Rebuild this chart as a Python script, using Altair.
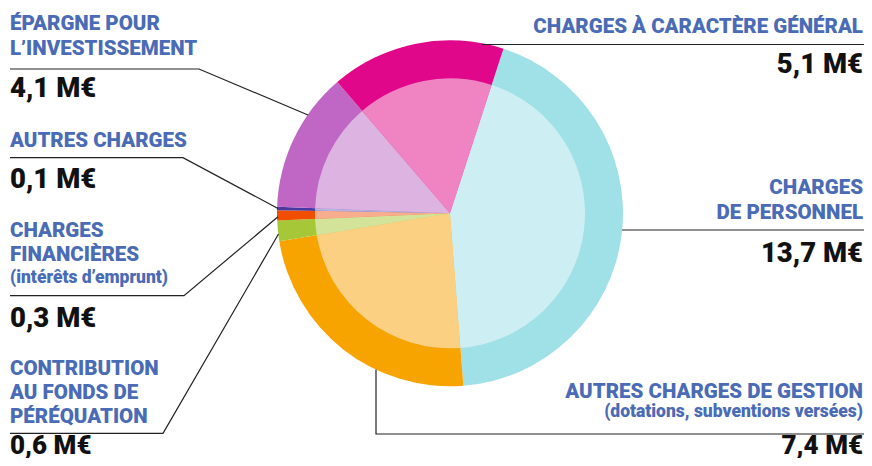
import math
import altair as alt
import pandas as pd

# ---------------- data ----------------
categories = [
    "Charges de personnel",
    "Autres charges de gestion",
    "Contribution au fonds de péréquation",
    "Charges financières",
    "Autres charges",
    "Épargne pour l'investissement",
    "Charges à caractère général",
]
values = [13.7, 7.4, 0.6, 0.3, 0.1, 4.1, 5.1]
outer_colors = ["#a0e1e8", "#f7a300", "#a6c838", "#f04e00", "#4a3aa0", "#c066c4", "#e0078a"]
inner_colors = ["#cdeef3", "#fbd083", "#d3e39a", "#f9ad8f", "#b7b3e0", "#ddb3e2", "#f084c2"]

label_lines = {
    "Épargne pour l'investissement": ["ÉPARGNE POUR", "L’INVESTISSEMENT"],
    "Autres charges": ["AUTRES CHARGES"],
    "Charges financières": ["CHARGES", "FINANCIÈRES"],
    "Contribution au fonds de péréquation": ["CONTRIBUTION", "AU FONDS DE", "PÉRÉQUATION"],
    "Charges à caractère général": ["CHARGES À CARACTÈRE GÉNÉRAL"],
    "Charges de personnel": ["CHARGES", "DE PERSONNEL"],
    "Autres charges de gestion": ["AUTRES CHARGES DE GESTION"],
}
label_notes = {
    "Charges financières": "(intérêts d’emprunt)",
    "Autres charges de gestion": "(dotations, subventions versées)",
}

# ---------------- layout (image pixel coordinates) ----------------
OFF = 8
CX, CY = 450 - OFF, 213.3 - OFF
R_OUT, R_IN = 173, 135
START = math.radians(18)

# side, x, baselines of label lines, note baseline, value baseline, value font size
layout = {
    "Épargne pour l'investissement": ("left", 10, [30, 55], None, 97, 27.5),
    "Autres charges": ("left", 10, [147], None, 188, 27.5),
    "Charges financières": ("left", 10, [237, 261], 283, 327, 27.5),
    "Contribution au fonds de péréquation": ("left", 10, [375, 399, 423], None, 454, 26),
    "Charges à caractère général": ("right", 863, [33], None, 73, 27.5),
    "Charges de personnel": ("right", 863, [194, 219], None, 262, 27.5),
    "Autres charges de gestion": ("right", 863, [398], 416.5, 454, 26),
}
leaders = {
    "Épargne pour l'investissement": [(10, 69), (199, 69), (308, 115)],
    "Charges à caractère général": [(482, 44.5), (866, 44.5)],
    "Charges de personnel": [(622, 230), (866, 230)],
    "Autres charges": [(10, 157.7), (183, 157.7), (278, 208.5)],
    "Charges financières": [(10, 295.7), (184, 295.7), (278, 216.7)],
    "Contribution au fonds de péréquation": [(10, 433.3), (163, 433.3), (278.5, 234)],
    "Autres charges de gestion": [(376, 369.4), (376, 434), (866, 434)],
}

# ---------------- tables ----------------
df = pd.DataFrame({"cat": categories, "value": values, "order": list(range(len(categories)))})

def fmt(v):
    return f"{v:.1f}".replace(".", ",") + " M€"

rows = []
for c, v in zip(categories, values):
    side, x, bls, note_bl, val_bl, vfs = layout[c]
    for line, bl in zip(label_lines[c], bls):
        rows.append({"text": line, "x": x - OFF, "y": bl - OFF, "kind": "label", "side": side, "fs": 20.5})
    if c in label_notes:
        rows.append({"text": label_notes[c], "x": x - OFF, "y": note_bl - OFF, "kind": "note", "side": side, "fs": 17.5})
    rows.append({"text": fmt(v), "x": x - OFF, "y": val_bl - OFF, "kind": "value", "side": side, "fs": vfs})
tdf = pd.DataFrame(rows)

lrows = []
for c, pts in leaders.items():
    for i, (x, y) in enumerate(pts):
        lrows.append({"cat": c, "i": i, "x": x - OFF, "y": y - OFF})
ldf = pd.DataFrame(lrows)

# ---------------- chart ----------------
theta = alt.Theta("value:Q", stack=True, scale=alt.Scale(range=[START, START + 2 * math.pi]))

outer = alt.Chart(df).mark_arc(outerRadius=R_OUT, strokeWidth=0).encode(
    theta=theta,
    order=alt.Order("order:Q"),
    color=alt.Color("cat:N", scale=alt.Scale(domain=categories, range=outer_colors), legend=None),
    x=alt.value(CX), y=alt.value(CY),
)
inner = alt.Chart(df).mark_arc(outerRadius=R_IN, strokeWidth=0).encode(
    theta=theta,
    order=alt.Order("order:Q"),
    color=alt.Color("cat:N", scale=alt.Scale(domain=categories, range=inner_colors), legend=None),
    x=alt.value(CX), y=alt.value(CY),
)
pie = alt.layer(outer, inner).resolve_scale(color="independent")

lines = alt.Chart(ldf).mark_line(color="#222222", strokeWidth=1.2).encode(
    x=alt.X("x:Q", scale=None),
    y=alt.Y("y:Q", scale=None),
    detail="cat:N",
    order="i:Q",
)

BLUE = "#4a6bb6"
colors = {"label": BLUE, "note": BLUE, "value": "#111111"}
text_layers = []
for kind, col in colors.items():
    for side in ["left", "right"]:
        text_layers.append(
            alt.Chart(tdf).transform_filter(
                (alt.datum.kind == kind) & (alt.datum.side == side)
            ).mark_text(font="Roboto", fontWeight=900, color=col, align=side, baseline="alphabetic").encode(
                x=alt.X("x:Q", scale=None),
                y=alt.Y("y:Q", scale=None),
                size=alt.Size("fs:Q", scale=None),
                text="text:N",
            )
        )

chart = alt.layer(pie, lines, *text_layers).properties(
    width=856, height=450, autosize="none", padding=0
).configure_view(stroke=None)

chart.save("out.html", embed_options={"renderer": "svg", "actions": False})
